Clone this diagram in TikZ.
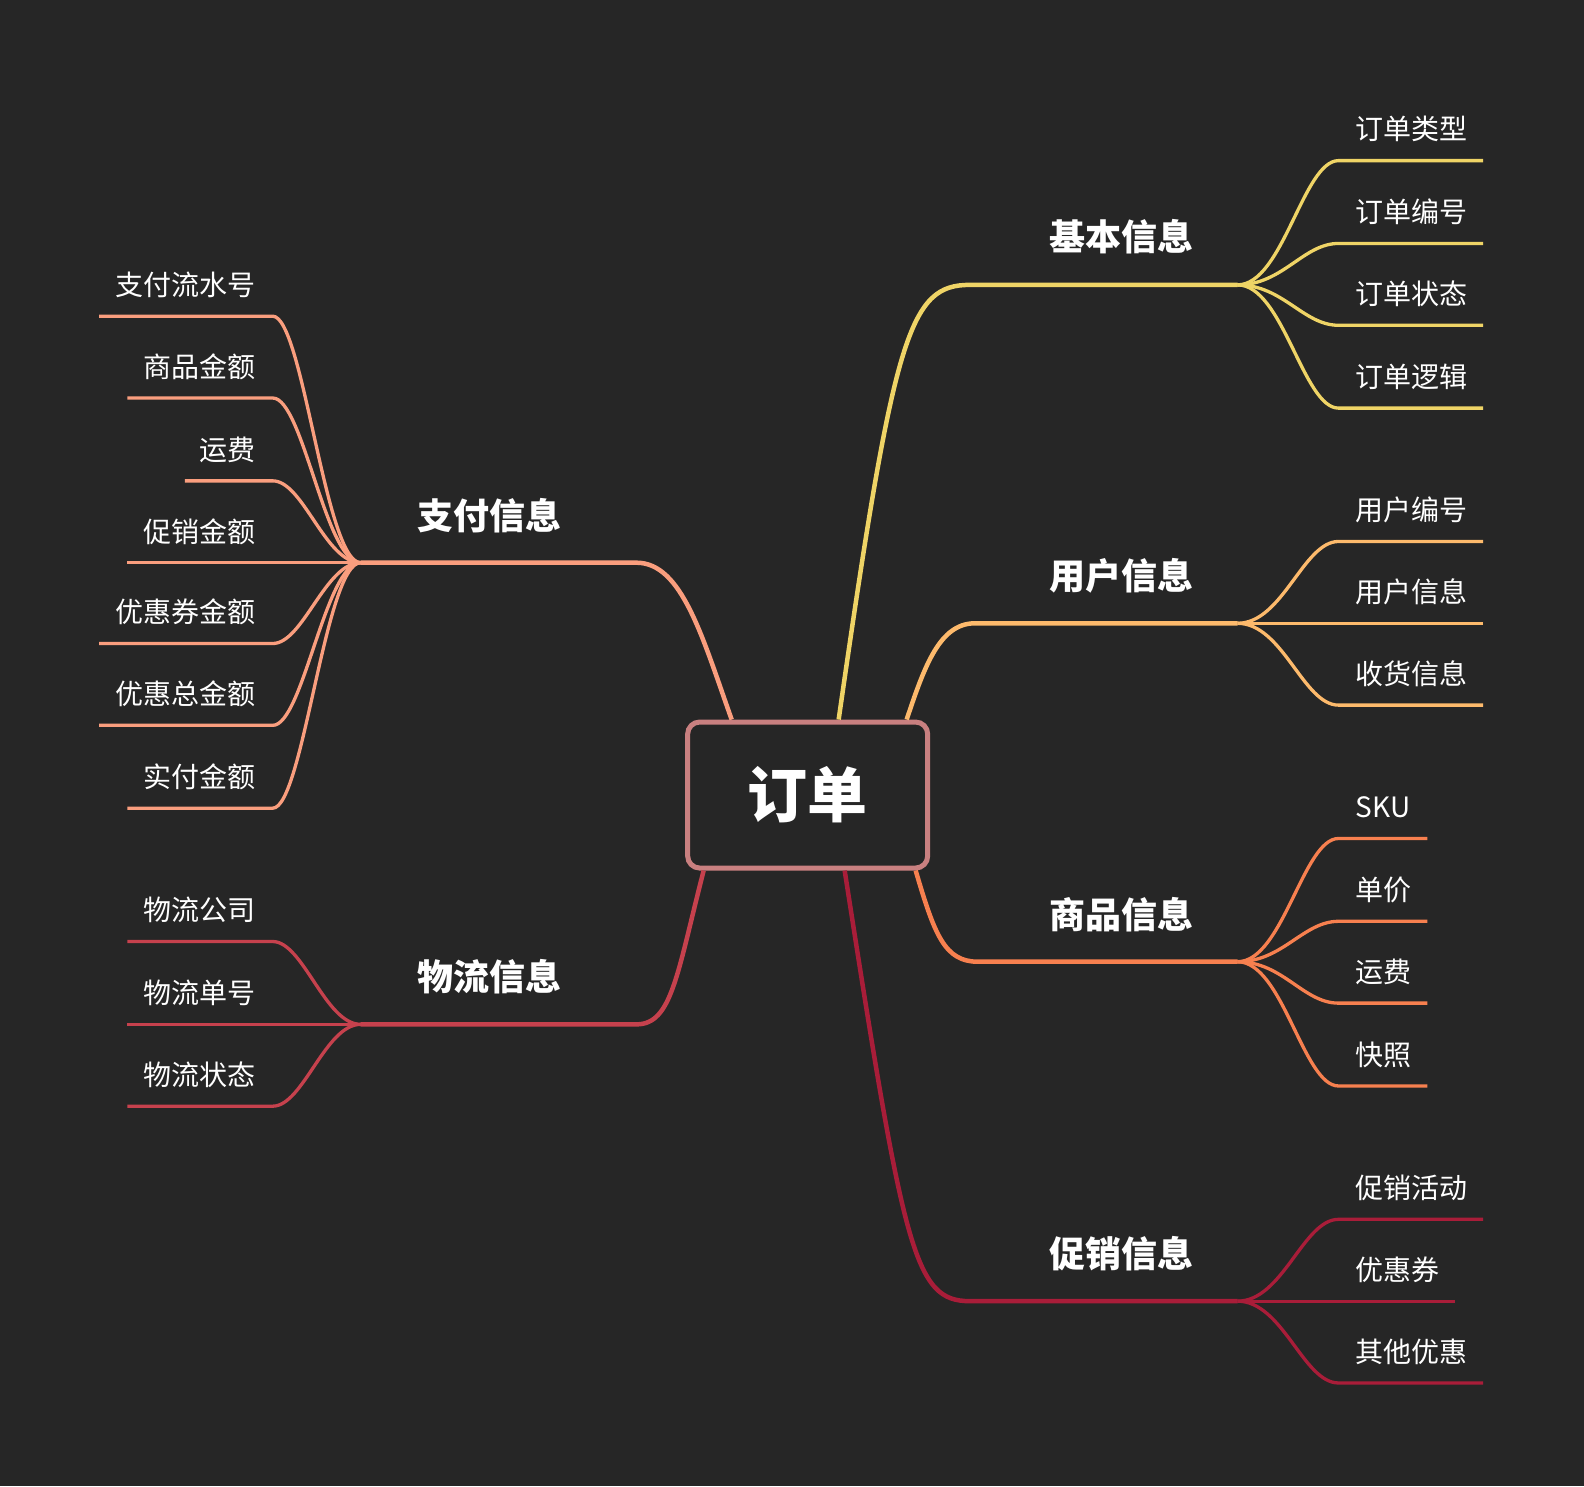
\documentclass[tikz,border=0pt]{standalone}
\usepackage{fontspec}
\setmainfont{Noto Sans CJK SC}

\definecolor{bg}{HTML}{262626}
\definecolor{boxc}{HTML}{C98080}
\definecolor{jiben}{HTML}{EFD466}
\definecolor{yonghu}{HTML}{FDBA6C}
\definecolor{shangpin}{HTML}{F7804F}
\definecolor{cuxiao}{HTML}{A91D39}
\definecolor{zhifu}{HTML}{FA9E7E}
\definecolor{wuliu}{HTML}{C6414D}

\begin{document}
\begin{tikzpicture}[x=1.0102pt,y=-1.0102pt,
    sub/.style={text=white, inner sep=0pt, font=\fontsize{28}{30}\selectfont},
    topic/.style={text=white, inner sep=0pt, font=\fontsize{36}{40}\selectfont\bfseries},
    twig/.style={line width=3.3pt},
    bough/.style={line width=4.5pt}]
    \fill[bg] (0,0) rectangle (1568,1471);
    \useasboundingbox (0,0) rectangle (1568,1471);

    \node[draw=boxc, line width=5pt, rounded corners=12pt, fill=bg, text=white,
          minimum width=240pt, minimum height=146pt,
          font=\fontsize{60}{64}\selectfont\bfseries] (root) at (799.5,787) {订单};

    % main topics
    \node[topic] (jb) at (1110,234) {基本信息};
    \node[topic] (yh) at (1110,570) {用户信息};
    \node[topic] (sp) at (1110,905) {商品信息};
    \node[topic] (cx) at (1110,1241) {促销信息};
    \node[topic] (zf) at (485,510) {支付信息};
    \node[topic] (wl) at (485,967) {物流信息};

    % fork points
    \coordinate (jjb) at (1225,282);
    \coordinate (jyh) at (1225,617);
    \coordinate (jsp) at (1225,952);
    \coordinate (jcx) at (1225,1288);
    \coordinate (jzf) at (357,557);
    \coordinate (jwl) at (357,1014);

    \draw[bough,jiben] ([xshift=31pt]root.north) .. controls (885,330) and (900,282) .. (960,282) -- (jjb);
    \draw[bough,yonghu] ([xshift=99pt]root.north) .. controls (915,660) and (930,617) .. (965,617) -- (jyh);
    \draw[bough,shangpin] ([xshift=108pt]root.south) .. controls (925,925) and (935,952) .. (968,952) -- (jsp);
    \draw[bough,cuxiao] ([xshift=37pt]root.south) .. controls (895,1240) and (905,1288) .. (960,1288) -- (jcx);
    \draw[bough,zhifu] ([xshift=-76pt]root.north) .. controls (695,630) and (675,557) .. (630,557) -- (jzf);
    \draw[bough,wuliu] ([xshift=-104pt]root.south) .. controls (670,965) and (665,1014) .. (630,1014) -- (jwl);

    % right leaves
    \foreach \y/\t [count=\i] in {159/订单类型, 241/订单编号, 322/订单状态, 404/订单逻辑}
    {\coordinate (tjb\i) at (1468,\y);
    \node[sub, anchor=west] (ljb\i) at (1342,\y-31) {\t};
    \draw[twig,jiben] (jjb) .. controls +(45,0) and +(-35,0) .. (1325,\y) -- (tjb\i);}

    \foreach \y/\t [count=\i] in {536/用户编号, 617/用户信息, 698/收货信息}
    {\coordinate (tyh\i) at (1468,\y);
    \node[sub, anchor=west] (lyh\i) at (1342,\y-31) {\t};
    \draw[twig,yonghu] (jyh) .. controls +(45,0) and +(-35,0) .. (1325,\y) -- (tyh\i);}

    \foreach \y/\t [count=\i] in {830/SKU, 912/单价, 993/运费, 1075/快照}
    {\coordinate (tsp\i) at (1413,\y);
    \node[sub, anchor=west] (lsp\i) at (1342,\y-31) {\t};
    \draw[twig,shangpin] (jsp) .. controls +(45,0) and +(-35,0) .. (1325,\y) -- (tsp\i);}

    \foreach \y/\t/\e [count=\i] in {1207/促销活动/1468, 1288/优惠券/1440, 1369/其他优惠/1468}
    {\coordinate (tcx\i) at (\e,\y);
    \node[sub, anchor=west] (lcx\i) at (1342,\y-31) {\t};
    \draw[twig,cuxiao] (jcx) .. controls +(45,0) and +(-35,0) .. (1325,\y) -- (tcx\i);}

    % left leaves
    \foreach \y/\t/\e [count=\i] in {313/支付流水号/98, 394/商品金额/126, 476/运费/183, 557/促销金额/126,
                                     637/优惠券金额/98, 718/优惠总金额/98, 800/实付金额/126}
    {\coordinate (tzf\i) at (\e,\y);
    \node[sub, anchor=east] (lzf\i) at (253,\y-31) {\t};
    \draw[twig,zhifu] (jzf) .. controls +(-35,0) and +(30,0) .. (270,\y) -- (tzf\i);}

    \foreach \y/\t [count=\i] in {932/物流公司, 1014/物流单号, 1095/物流状态}
    {\coordinate (twl\i) at (126,\y);
    \node[sub, anchor=east] (lwl\i) at (253,\y-31) {\t};
    \draw[twig,wuliu] (jwl) .. controls +(-35,0) and +(30,0) .. (270,\y) -- (twl\i);}

\end{tikzpicture}
\end{document}
